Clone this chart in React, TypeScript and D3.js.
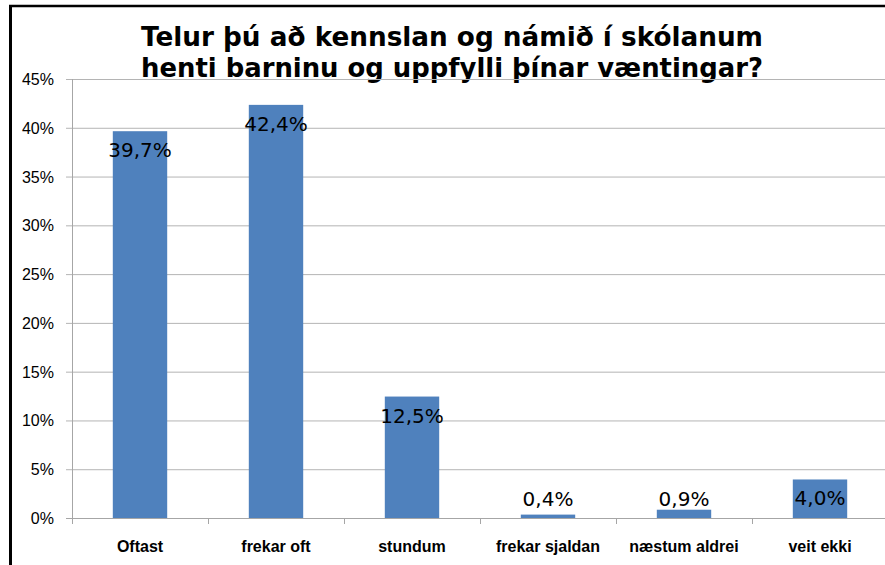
import React from 'react';
import * as d3 from 'd3';

const categories = ['Oftast', 'frekar oft', 'stundum', 'frekar sjaldan', 'næstum aldrei', 'veit ekki'];
const values = [39.7, 42.4, 12.5, 0.4, 0.9, 4.0];
const yTicks = [0, 5, 10, 15, 20, 25, 30, 35, 40, 45];
const titleLines = ['Telur þú að kennslan og námið í skólanum', 'henti barninu og uppfylli þínar væntingar?'];

const W = 885;
const H = 565;

export default function App() {
  const x = d3.scaleBand<string>()
    .domain(categories)
    .range([72, 888])
    .paddingInner(0.6)
    .paddingOuter(0.3);

  const y = d3.scaleLinear().domain([0, 45]).range([518.5, 79.5]);
  const fmt = (v: number) => v.toFixed(1).replace('.', ',') + '%';
  const step = x.step();

  return (
    <svg width={W} height={H} style={{ position: 'absolute', left: 0, top: 0, background: '#fff' }}>
      <rect x={0} y={0} width={W} height={H} fill="#fff" />
      {/* chart border */}
      <line x1={10.5} y1={5} x2={10.5} y2={H} stroke="#000" strokeWidth={3} />
      <line x1={9} y1={6} x2={W} y2={6} stroke="#000" strokeWidth={2.5} />

      {/* title */}
      {titleLines.map((t, i) => (
        <text key={t} x={452} y={46 + i * 31} textAnchor="middle" fontFamily="DejaVu Sans" fontWeight="bold"
          fontSize={26} textLength={622} lengthAdjust="spacingAndGlyphs" fill="#000">{t}</text>
      ))}

      {/* gridlines */}
      {yTicks.filter(t => t > 0).map(t => (
        <line key={t} x1={66} x2={W} y1={y(t)} y2={y(t)} stroke="#b4b4b4" strokeWidth={1} />
      ))}

      {/* y tick labels */}
      {yTicks.map(t => (
        <text key={t} x={54} y={y(t) + 5.5} textAnchor="end" fontFamily="Liberation Sans" fontSize={16} fill="#000">{t}%</text>
      ))}

      {/* bars */}
      {categories.map((c, i) => (
        <rect key={c} x={x(c)} y={y(values[i])} width={x.bandwidth()} height={y(0) - y(values[i])} fill="#4F81BD" />
      ))}

      {/* axes */}
      <line x1={72.5} x2={72.5} y1={79} y2={524} stroke="#a6a6a6" strokeWidth={1} />
      <line x1={66} x2={W} y1={y(0)} y2={y(0)} stroke="#a6a6a6" strokeWidth={1} />
      {categories.map((c, i) => {
        const tx = Math.round(72 + step * (i + 1)) + 0.5;
        return <line key={c} x1={tx} x2={tx} y1={y(0)} y2={524} stroke="#a6a6a6" strokeWidth={1} />;
      })}

      {/* data labels */}
      {categories.map((c, i) => (
        <text key={c} x={(x(c) ?? 0) + x.bandwidth() / 2} y={Math.min(y(values[i]) + 26, y(0) - 13)}
          textAnchor="middle" fontFamily="DejaVu Sans" fontSize={20} fill="#000">{fmt(values[i])}</text>
      ))}

      {/* category labels */}
      {categories.map(c => (
        <text key={c} x={(x(c) ?? 0) + x.bandwidth() / 2} y={552} textAnchor="middle"
          fontFamily="Liberation Sans" fontWeight="bold" fontSize={16} fill="#000">{c}</text>
      ))}
    </svg>
  );
}
